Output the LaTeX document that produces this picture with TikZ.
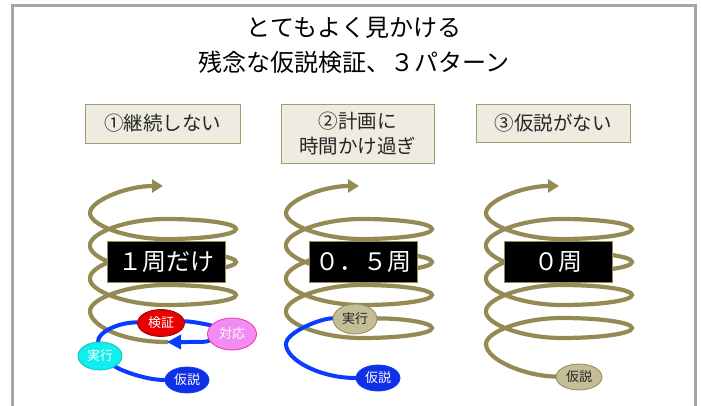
\documentclass[tikz,border=0pt]{standalone}
\usepackage{fontspec}
\setmainfont{Noto Sans CJK JP}
\usetikzlibrary{arrows.meta,shapes.geometric}

\definecolor{springcol}{HTML}{948A54}
\definecolor{tanfill}{HTML}{EEECE1}
\definecolor{tanmid}{HTML}{C4BD97}
\definecolor{framegray}{HTML}{A6A6A6}
\definecolor{loopblue}{HTML}{0A3CFF}
\definecolor{kasetsublue}{HTML}{1030E6}
\definecolor{jikkocyan}{HTML}{11EEEE}
\definecolor{kenshored}{HTML}{E80000}
\definecolor{taiopink}{HTML}{F28CF2}

\pgfdeclarelayer{bg}
\pgfsetlayers{bg,main}

% one turn of the spring: #1 = centre x, #2 = level
\newcommand{\springturn}[2]{%
  \draw[spring] (#1-76,#2-16) .. controls (#1-76,#2-4) and (#1-40,#2+10) .. (#1,#2+10)
    .. controls (#1+39,#2+10) and (#1+70,#2+5.5) .. (#1+70,#2)
    .. controls (#1+70,#2-5.5) and (#1+39,#2-10) .. (#1,#2-10)
    .. controls (#1-40,#2-10) and (#1-76,#2+4) .. (#1-76,#2+16);
}
% open end at the top, with the arrow
\newcommand{\springtop}[1]{%
  \draw[spring,-{Triangle[length=11pt,width=13pt]}] (#1-76,192)
    .. controls (#1-76,204) and (#1-40,219) .. (#1-3,219);
}

\tikzset{
  spring/.style={draw=springcol,line width=4.2pt,line cap=round},
  loopline/.style={draw=loopblue,line width=4pt,line cap=round},
  casebox/.style={draw=springcol!85,fill=tanfill,line width=0.8pt,text=black!85,
    font=\fontsize{19.5}{25}\selectfont,align=center,inner sep=0pt},
  turnbox/.style={fill=black,draw=springcol,line width=0.8pt,text=white,
    font=\fontsize{24}{28}\selectfont,minimum height=41pt,inner sep=0pt},
  stage/.style={ellipse,minimum width=44pt,minimum height=26pt,inner sep=0pt,
    font=\fontsize{13}{15}\selectfont,line width=0.8pt}
}

\begin{document}
\begin{tikzpicture}[x=1pt,y=1pt]
  \useasboundingbox (0,0) rectangle (701,405);
  \draw[framegray,line width=3pt] (12.5,-10) -- (12.5,399.5) -- (695.5,399.5) -- (695.5,-10);

  \node[font=\fontsize{24}{35}\selectfont,align=center] (title) at (354,360)
    {とてもよく見かける\\残念な仮説検証、３パターン};

  % the three cases
  \node[casebox,minimum width=155pt,minimum height=39pt] (case1) at (162.5,281.5) {①継続しない};
  \node[casebox,minimum width=153pt,minimum height=59pt] (case2) at (357.5,271.5) {②計画に\\時間かけ過ぎ};
  \node[casebox,minimum width=154pt,minimum height=38pt] (case3) at (553,281.5) {③仮説がない};

  \node[turnbox,minimum width=118pt] (turns1) at (166,143) {１周だけ};
  \node[turnbox,minimum width=108pt] (turns2) at (363,143) {０．５周};
  \node[turnbox,minimum width=108pt] (turns3) at (558,143) {０周};

  % stages
  \node[stage,fill=kasetsublue,draw=loopblue,text=white] (kasetsu1) at (187,25) {仮説};
  \node[stage,fill=jikkocyan,draw=jikkocyan!80!black,text=white,minimum height=28pt] (jikko1) at (100,49) {実行};
  \node[stage,fill=kenshored,draw=red!60!black,text=white,minimum width=47pt,minimum height=27pt] (kensho1) at (161,82) {検証};
  \node[stage,fill=taiopink,draw=magenta!80,text=white,minimum width=49pt,minimum height=32pt] (taio1) at (232,71) {対応};
  \coordinate (back1) at (167,63);

  \node[stage,fill=tanmid,draw=springcol,text=black!85,minimum height=30pt] (jikko2) at (355,86) {実行};
  \node[stage,fill=kasetsublue,draw=loopblue,text=white] (kasetsu2) at (378,27) {仮説};

  \node[stage,fill=tanmid,draw=springcol,text=black!85,minimum width=46pt] (kasetsu3) at (579,28) {仮説};

  \begin{pgfonlayer}{bg}
    % spring 1
    \springtop{166}
    \foreach \lvl in {176,143,110} {\springturn{166}{\lvl}}
    \draw[spring] (90,94) .. controls (90,80) and (121,63) .. (back1);
    \draw[loopline] (kasetsu1) .. controls (145,25) and (120,35) .. (jikko1);
    \draw[loopline] (jikko1) .. controls (97,72) and (118,83) .. (kensho1);
    \draw[loopline] (kensho1) .. controls (190,84) and (210,80) .. (taio1);
    \draw[loopline,-{Triangle[length=14pt,width=14pt]}] (taio1) .. controls (205,63) .. (back1);

    % spring 2
    \springtop{362}
    \foreach \lvl in {176,143,110} {\springturn{362}{\lvl}}
    \draw[spring] (jikko2) .. controls (401,87) and (432,82.5) .. (432,77)
      .. controls (432,71.5) and (401,67) .. (362,67)
      .. controls (322,67) and (286,81) .. (286,93);
    \draw[loopline] (kasetsu2) .. controls (320,27) and (286,45) .. (286,61)
      .. controls (286,73) and (322,87) .. (jikko2);

    % spring 3
    \springtop{562}
    \foreach \lvl in {176,143,110,77} {\springturn{562}{\lvl}}
    \draw[spring] (486,61) .. controls (486,45) and (525,29) .. (kasetsu3);
  \end{pgfonlayer}
\end{tikzpicture}
\end{document}
